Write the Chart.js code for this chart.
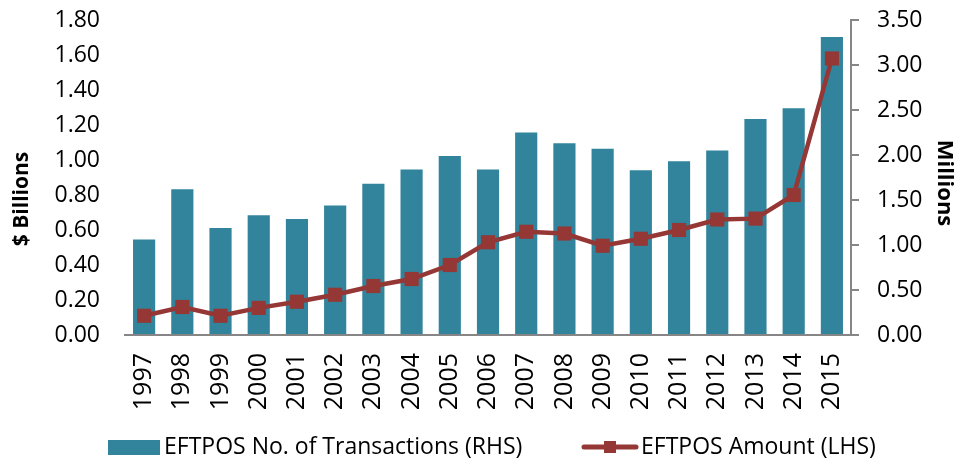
<!DOCTYPE html>
<html lang="en">
<head>
  <meta charset="UTF-8">
  <title>EFTPOS</title>
  <script src="https://cdn.jsdelivr.net/npm/chart.js"></script>
  <style>
    html, body { margin: 0; padding: 0; background: #fff; }
    #wrap { width: 955px; height: 459px; }
  </style>
</head>
<body>
  <div id="wrap"><canvas id="myChart"></canvas></div>
  <script>
    // Data
    const years = ['1997', '1998', '1999', '2000', '2001', '2002', '2003', '2004', '2005', '2006',
      '2007', '2008', '2009', '2010', '2011', '2012', '2013', '2014', '2015'];
    // EFTPOS No. of Transactions, millions (right axis)
    const transactions = [1.06, 1.62, 1.19, 1.33, 1.29, 1.44, 1.68, 1.84, 1.99, 1.84,
      2.25, 2.13, 2.07, 1.83, 1.93, 2.05, 2.40, 2.52, 3.31];
    // EFTPOS Amount, $ billions (left axis)
    const amount = [0.11, 0.16, 0.11, 0.155, 0.19, 0.23, 0.28, 0.32, 0.40, 0.53,
      0.59, 0.58, 0.51, 0.55, 0.60, 0.66, 0.665, 0.80, 1.58];
    const leftTicks = { min: 0, max: 1.8, step: 0.2 };
    const rightTicks = { min: 0, max: 3.5, step: 0.5 };

    const barColor = '#31849B';
    const lineColor = '#953735';
    const axisColor = '#868686';
    const font = "'Open Sans', 'Noto Sans', sans-serif";

    // axis titles and legend drawn by hand, Excel style
    const extras = {
      id: 'extras',
      afterDraw(chart) {
        const ctx = chart.ctx;
        ctx.save();
        ctx.fillStyle = '#000';
        ctx.font = 'bold 21px ' + font;
        ctx.textAlign = 'center';
        ctx.textBaseline = 'middle';
        ctx.translate(22, 199);
        ctx.rotate(-Math.PI / 2);
        ctx.fillText('$ Billions', 0, 0);
        ctx.restore();

        ctx.save();
        ctx.fillStyle = '#000';
        ctx.font = 'bold 22px ' + font;
        ctx.textAlign = 'center';
        ctx.textBaseline = 'middle';
        ctx.translate(944, 183);
        ctx.rotate(Math.PI / 2);
        ctx.fillText('Millions', 0, 0);
        ctx.restore();

        // legend
        ctx.save();
        const ly = 447;
        ctx.fillStyle = barColor;
        ctx.fillRect(108, 440, 52, 15);
        ctx.strokeStyle = lineColor;
        ctx.lineWidth = 5;
        ctx.lineCap = 'round';
        ctx.beginPath();
        ctx.moveTo(584, ly);
        ctx.lineTo(636, ly);
        ctx.stroke();
        ctx.fillStyle = lineColor;
        ctx.fillRect(604, ly - 6, 12, 12);
        ctx.fillStyle = '#000';
        ctx.font = '23px ' + font;
        ctx.textBaseline = 'middle';
        ctx.fillText('EFTPOS No. of Transactions (RHS)', 164, ly);
        ctx.fillText('EFTPOS Amount (LHS)', 641, ly);
        ctx.restore();
      }
    };

    const data = {
      labels: years,
      datasets: [{
        type: 'line',
        label: 'EFTPOS Amount (LHS)',
        data: amount,
        yAxisID: 'y',
        borderColor: lineColor,
        backgroundColor: lineColor,
        borderWidth: 4.5,
        pointStyle: 'rect',
        pointRadius: 10,
        pointBorderWidth: 0,
        tension: 0
      }, {
        type: 'bar',
        label: 'EFTPOS No. of Transactions (RHS)',
        data: transactions,
        yAxisID: 'y1',
        backgroundColor: barColor,
        categoryPercentage: 1,
        barPercentage: 0.58
      }]
    };

    const config = {
      data: data,
      options: {
        responsive: true,
        maintainAspectRatio: false,
        animation: false,
        layout: { padding: { top: 20, left: 0, right: 0, bottom: 0 } },
        plugins: {
          legend: { display: false },
          tooltip: { enabled: false }
        },
        scales: {
          x: {
            grid: { display: false },
            border: { display: true, color: axisColor, width: 2 },
            ticks: {
              color: '#000',
              font: { family: font, size: 25 },
              minRotation: 90,
              maxRotation: 90,
              padding: 10
            },
            afterFit(scale) { scale.height = 124; }
          },
          y: {
            position: 'left',
            min: leftTicks.min,
            max: leftTicks.max,
            grid: { display: false },
            border: { display: false },
            ticks: {
              stepSize: leftTicks.step,
              color: '#000',
              font: { family: font, size: 23 },
              padding: 17,
              callback: v => v.toFixed(2)
            },
            afterFit(scale) { scale.width = 125; scale.paddingTop = 0; }
          },
          y1: {
            position: 'right',
            min: rightTicks.min,
            max: rightTicks.max,
            grid: { display: true, drawOnChartArea: false, drawTicks: true, tickLength: 8, color: axisColor, lineWidth: 2 },
            border: { display: true, color: axisColor, width: 2 },
            ticks: {
              stepSize: rightTicks.step,
              color: '#000',
              font: { family: font, size: 23 },
              padding: 18,
              callback: v => v.toFixed(2)
            },
            afterFit(scale) { scale.width = 104; scale.paddingTop = 0; }
          }
        }
      },
      plugins: [extras]
    };

    const myChart = new Chart(document.getElementById('myChart'), config);
  </script>
</body>
</html>
